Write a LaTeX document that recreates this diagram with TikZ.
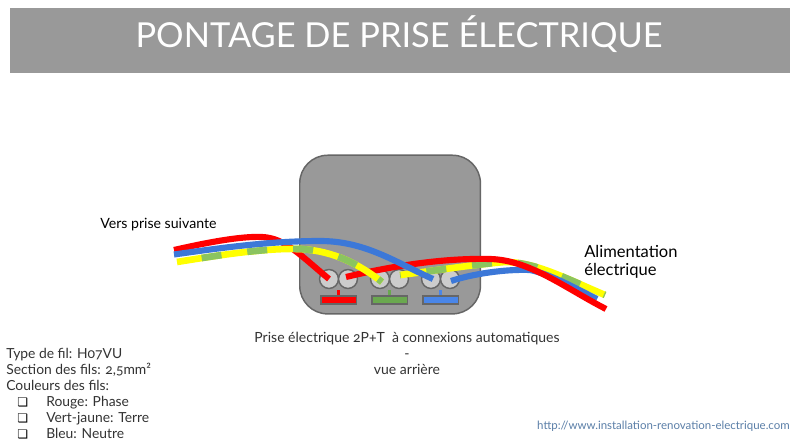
\documentclass[tikz,border=0pt]{standalone}
\usepackage{fontspec}
\setmainfont{Lato}[Numbers=OldStyle]
\newfontfamily\sym{DejaVu Sans}
\definecolor{bargrey}{HTML}{999999}
\definecolor{bodygrey}{HTML}{999999}
\definecolor{edgegrey}{HTML}{666666}
\definecolor{holegrey}{HTML}{CCCCCC}
\definecolor{wred}{HTML}{FF0000}
\definecolor{wblue}{HTML}{3C78D8}
\definecolor{wyellow}{HTML}{FFFF00}
\definecolor{wgreen}{HTML}{8BC45F}
\definecolor{bargreen}{HTML}{6AA84F}
\definecolor{barblue}{HTML}{4A86E8}
\definecolor{txt}{HTML}{333333}
\definecolor{urlc}{HTML}{5B7FA8}
\tikzset{
  hole/.style={circle,draw=edgegrey,fill=holegrey,line width=1.1pt,minimum size=14.2pt,inner sep=0pt},
  bus/.style={draw=edgegrey,line width=1pt,minimum width=26.5pt,minimum height=6.2pt,inner sep=0pt},
  stem/.style={line width=2.2pt},
  redw/.style={wred,line width=4.6pt},
  bluew/.style={wblue,line width=4.6pt},
  yelw/.style={wyellow,line width=5pt},
  grnw/.style={wgreen,line width=5pt,dash pattern=on 15pt off 19.5pt},
  lab/.style={inner sep=0pt,anchor=base west,text=black},
  captxt/.style={inner sep=0pt,anchor=base,text=txt,font=\fontsize{10.5pt}{12pt}\selectfont},
  lst/.style={inner sep=0pt,anchor=base west,text=txt,font=\fontsize{10.4pt}{12pt}\selectfont},
}
\begin{document}
\begin{tikzpicture}[x=0.75pt,y=-0.75pt]
\useasboundingbox (0,0) rectangle (800,448);
\fill[white] (0,0) rectangle (800,448);
\node[fill=bargrey,minimum width=585pt,minimum height=48.75pt,inner sep=0pt,anchor=north west] (bar) at (10,8) {};
\node[text=white,inner sep=0pt,anchor=base,font=\fontsize{25.8pt}{30pt}\selectfont] (title) at (399,48) {PONTAGE DE PRISE ÉLECTRIQUE};
\node[draw=edgegrey,fill=bodygrey,line width=1.1pt,rounded corners=21pt,minimum width=135.5pt,minimum height=119pt,inner sep=0pt,anchor=north west] (body) at (299,154.5) {};
\foreach \n/\x in {a/329,b/348,c/380,d/399,e/431,f/450}{\node[hole] (\n) at (\x,279) {};}
\node[bus,fill=wred] (busr) at (338.5,300) {};
\node[bus,fill=bargreen] (busg) at (389.5,300) {};
\node[bus,fill=barblue] (busb) at (440.5,300) {};
\draw[stem,wred] (busr.north) -- ++(0,-5);
\draw[stem,bargreen] (busg.north) -- ++(0,-5);
\draw[stem,barblue] (busb.north) -- ++(0,-5);
\coordinate (lr) at (174,250);
\coordinate (lb) at (174,254.5);
\coordinate (ly) at (177,262);
\coordinate (rr) at (606,309);
\coordinate (ry) at (605,295);
\coordinate (rb) at (597,299);
% right hand wires
\path (d.center) ++(1,-4) coordinate (dy);
\draw[yelw] (dy) .. controls (440,270) and (470,265) .. (505,262) .. controls (535,262) and (565,278) .. (ry);
\draw[grnw,dash phase=-20pt] (dy) .. controls (440,270) and (470,265) .. (505,262) .. controls (535,262) and (565,278) .. (ry);
\path (f.center) ++(1,2) coordinate (fb);
\draw[bluew] (fb) .. controls (472,274) and (505,269) .. (530,270) .. controls (550,274) and (575,288) .. (rb);
\coordinate (br) at (346,277);
\draw[redw] (br) .. controls (400,264) and (450,258) .. (490,259) .. controls (530,260) and (565,288) .. (rr);
% left hand wires
\draw[redw] (lr) .. controls (205,243) and (240,236) .. (262,237) .. controls (285,238) and (300,255) .. (a.center);
\draw[yelw] (ly) .. controls (220,255) and (265,248) .. (300,249) .. controls (335,251) and (360,265) .. (382,282);
\draw[grnw,dash phase=-18.75pt] (ly) .. controls (220,255) and (265,248) .. (300,249) .. controls (335,251) and (360,265) .. (382,282);
\draw[bluew] (lb) .. controls (220,248) and (270,241) .. (320,241) .. controls (365,241) and (395,262) .. (433,279);
% labels
\node[lab,font=\fontsize{10.6pt}{13pt}\selectfont] (vers) at (100,229) {Vers prise suivante};
\node[lab,font=\fontsize{12.4pt}{14pt}\selectfont] (al1) at (584,258) {Alimentation};
\node[lab,font=\fontsize{12.4pt}{14pt}\selectfont] (al2) at (584,276) {électrique};
\node[captxt] (c1) at (407,343) {Prise électrique 2P+T\ \ à connexions automatiques};
\node[captxt] (c2) at (407,359) {-};
\node[captxt] (c3) at (407,375) {vue arrière};
\node[lst] (t1) at (6,359) {Type de fil: H07VU};
\node[lst] (t2) at (6,375) {Section des fils: 2,5mm²};
\node[lst] (t3) at (6,391) {Couleurs des fils:};
\foreach \n/\y/\t in {p/407/Rouge: Phase,q/423/Vert-jaune: Terre,r/439/Bleu: Neutre}{
  \node[lst,text=black,font=\fontsize{9pt}{11pt}\sym] (b\n) at (17,\y) {❏};
  \node[lst] (t\n) at (46,\y) {\t};
}
\node[inner sep=0pt,anchor=base east,text=urlc,font=\fontsize{8.6pt}{11pt}\selectfont] (url) at (790,430) {http://www.installation-renovation-electrique.com};
\end{tikzpicture}
\end{document}
